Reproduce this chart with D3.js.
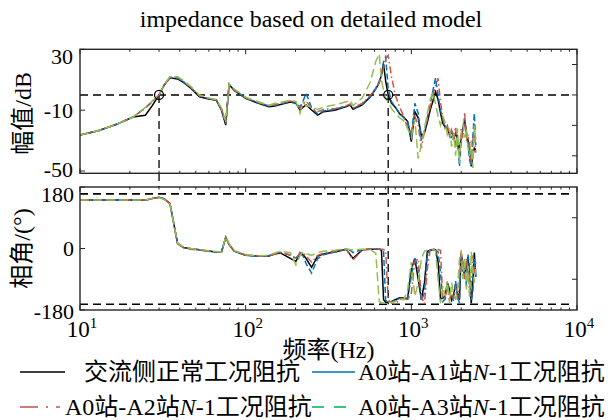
<!DOCTYPE html>
<html>
<head>
<meta charset="utf-8">
<script src="https://cdn.jsdelivr.net/npm/d3@7"></script>
<style>
  body { margin: 0; background: #fff; }
  text { font-family: "Liberation Serif", "Times New Roman", "Noto Sans CJK SC", serif; fill: #000; }
</style>
</head>
<body>
<div id="chart"></div>
<script>
// frequency grid (Hz) shared by all series
const freqs = [10, 12.9, 16.8, 20.9, 24.8, 27.3, 30, 32.2, 34.9, 38.8, 42.1, 46.8, 52.6, 58.8, 66.5, 71.4, 75.8, 79.4, 85.3, 100,
  117, 138, 150, 162, 186, 201, 213, 222, 232, 250, 272, 295, 345, 405, 427, 445, 505, 563, 610, 640,
  660, 680, 700, 725, 760, 800, 850, 900, 950, 1000, 1050, 1100, 1150, 1200, 1250, 1300, 1350, 1400, 1450, 1500,
  1550, 1600, 1650, 1700, 1750, 1800, 1850, 1900, 1950, 2000, 2050, 2100, 2150, 2200, 2250, 2300, 2350, 2400, 2450];

// magnitude (dB)
const magNormal = [-26.3, -23.5, -19.1, -14.5, -13.3, -7, 0, 6.5, 11.3, 10.5, 8.2, 4.3, -1.2, -2.5, -3.5, -9.9, -19.8, 6.9, 3, -2.3,
  -5.1, -7.7, -7.2, -6.3, -4.6, -5.5, -10, -8, -6.6, -9.9, -13.2, -11, -10, -7.7, -6.6, -9.5, -6.6, -1.5, 4, 8,
  13, 20.5, 9, 0, -5.5, -8, -12.5, -14.5, -17.5, -30.7, -11, -15, -27, -25, -18, -10, -4, 2, -3, -12,
  -18.7, -21, -22, -26, -24, -28, -25, -30, -36, -28, -22, -16.5, -25, -30, -38, -47, -40, -35, -36];
const magA1 = [-26.3, -23.5, -19.1, -14.5, -8.5, -4.2, 0, 6.5, 11.6, 11, 8.5, 4.6, -0.8, -2.2, -3.4, -9.5, -19, 6.5, 3.2, -2,
  -4.8, -7.3, -6.8, -6, -4.2, -5, -8, -4, 1, -8.5, -12.5, -10.5, -9.5, -7.3, -6.2, -9, -6, -1, 4.5, 9,
  14, 22, 25, 4, -4.5, -8, -12, -15, -18, -27, -5.5, -12, -30, -24, -15, -6, 3, 11, 0, -10,
  -16, -20, -23, -24, -29, -25, -34, -26, -47, -30, -23, -15, -27, -33, -43, -47, -28, -12, -33];
const magA2 = [-26.3, -23.5, -19.1, -14.5, -8.8, -4.5, 0, 6.5, 11.8, 11.8, 9, 5, -0.5, -2, -3.2, -9, -18, 6.5, 3.5, -1.8,
  -4.6, -7, -6.5, -5.5, -4, -5, -9, -6, -4, -9, -11, -9.5, -9, -7, -6, -8.5, -5.5, -0.5, 4, 8,
  12.5, 18, 24, 26, 12, 0, -8, -14, -22, -25, -14, -20, -35, -24, -16, -8, 0, 6, 11, -5,
  -15, -22, -20, -27, -23, -30, -21, -34, -40, -22, -28, -12, -30, -26, -33, -45, -30, -24, -38];
const magA3 = [-26.3, -23.5, -19.1, -14.5, -8.2, -4, 0, 6.7, 12, 12, 9.5, 5.5, 0, -1.8, -3, -8.5, -17.5, 7.5, 4, -1.5,
  -4.2, -6.8, -5.5, -4.8, -3.5, -4.2, -12, -5, -7, -8, -9.5, -8, -6.5, -4.5, -3.5, -7, -2, 8, 22, 27,
  10, 3, -2, -5, -9, -12, -15, -17, -22, -28, -16, -41.7, -33, -22, -12, -3, 2, -6, -14, -20,
  -14, -18, -26, -22, -34, -25, -40, -22, -45, -25, -19, -28, -22, -35, -40, -30, -48, -20, -30];

// phase (deg)
const phNormal = [142, 142, 142, 142, 141, 146, 150, 145, 132, 15, 3, -1, -4, -7, -10, -11, 33, 12, -8, -20,
  -22, -22, -16, -13, -29, -38, -12, -18, -30, -55, -22, -16, -10, -2, -18, -29, -4, -2, -2, -2,
  -5, -150, -157, -157, -155, -150, -144, -145, -146, -60, -30, -90, -150, -100, -8, -5, -4, -4, -40, -148,
  -145, -138, -100, -120, -151, -135, -105, -130, -150, -14, -50, -83, -50, -24, -90, -160, -100, -12, -83];
const phA1 = [142, 142, 142, 142, 142, 147, 150, 145, 132, 15, 3, -1, -4, -7, -10, -11, 31, 12, -8, -20,
  -22, -21, -15, -11, -20, -28, -15, -22, -45, -72, -30, -18, -10, -3, -5, -12, -3, -2, -2, -2,
  -3, -10, -152, -158, -156, -152, -146, -147, -148, -80, -25, -60, -152, -130, -15, -4, -3, -5, -10, -70,
  -155, -148, -110, -130, -140, -155, -95, -140, -160, -20, -70, -40, -110, -18, -60, -150, -130, -30, -90];
const phA2 = [142, 142, 142, 142, 142, 146, 150, 145, 131, 14, 2, -2, -5, -8, -10, -11, 32, 12, -7, -19,
  -21, -22, -16, -12, -18, -30, -12, -14, -22, -40, -20, -14, -8, -2, -20, -33, -5, -2, -1, -1,
  -2, -3, -6, -150, -160, -162, -150, -146, -150, -130, -40, -30, -140, -162, -60, -2, -1, -2, -3, -5,
  -150, -140, -120, -150, -125, -148, -110, -150, -100, -10, -40, -90, -30, -60, -140, -100, -20, -70, -40];
const phA3 = [142, 142, 142, 142, 142, 146, 149, 144, 130, 16, 4, 0, -3, -6, -9, -10, 34, 14, -6, -18,
  -21, -20, -13, -8, -12, -48, -20, -10, -15, -20, -12, -8, -5, -1, -3, -4, -2, -2, -14, -155,
  -158, -160, -158, -157, -158, -155, -147, -150, -120, -40, -140, -100, -30, -8, -5, -3, -2, -8, -90, -160,
  -110, -140, -95, -160, -100, -130, -150, -120, -35, -5, -90, -30, -120, -50, -140, -10, -60, -100, -60];

const seriesNames = ["交流侧正常工况阻抗", "A0站-A1站N-1工况阻抗", "A0站-A2站N-1工况阻抗", "A0站-A3站N-1工况阻抗"];
const crossFreqs = [30, 725];
const magTicksLeft = [30, -10, -50];
const magTicksRight = [20, 0, -20, -40];
const phTicksLeft = [180, 0, -180];
const phTicksRight = [90, -90];
const phLimits = [160, -163];

const W = 611, H = 420;
const X0 = 80, X1 = 577;
const FONT = 24, TICK_FONT = 22;

const svg = d3.select("#chart").append("svg").attr("width", W).attr("height", H);

const x = d3.scaleLog().domain([10, 1e4]).range([X0, X1]);
const yMag = d3.scaleLinear().domain([-51.5, 30]).range([173.3, 49.3]);
const yPh = d3.scaleLinear().domain([-180, 180]).range([310, 187]);

const series = [
  { mag: magNormal, ph: phNormal, color: "#000", legend: "#000", dash: null },
  { mag: magA1, ph: phA1, color: "#0072bd", legend: "#0072bd", dash: "6,3" },
  { mag: magA2, ph: phA2, color: "#cc5448", legend: "#c0504d", dash: "7,3,1.5,3" },
  { mag: magA3, ph: phA3, color: "#93bf52", legend: "#00b050", dash: "9,4" }
];

// title
svg.append("text").attr("x", 311).attr("y", 27).attr("text-anchor", "middle")
  .attr("font-size", FONT).text("impedance based on detailed model");

function panel(y, clipId) {
  const [yb, yt] = y.range();
  svg.append("clipPath").attr("id", clipId).append("rect")
    .attr("x", X0).attr("y", yt).attr("width", X1 - X0).attr("height", yb - yt);
  return { yb, yt };
}

const pTop = panel(yMag, "clipTop");
const pBot = panel(yPh, "clipBot");

// reference dashed lines
const dashRef = "8,5";
svg.append("line").attr("x1", X0).attr("x2", X1 - 3).attr("y1", yMag(0)).attr("y2", yMag(0))
  .attr("stroke", "#000").attr("stroke-width", 1.6).attr("stroke-dasharray", dashRef);
phLimits.forEach(v => {
  svg.append("line").attr("x1", X0).attr("x2", X1 - 3).attr("y1", yPh(v)).attr("y2", yPh(v))
    .attr("stroke", "#000").attr("stroke-width", 1.6).attr("stroke-dasharray", dashRef);
});
svg.append("line").attr("x1", x(crossFreqs[0])).attr("x2", x(crossFreqs[0]))
  .attr("y1", yMag(0)).attr("y2", pBot.yt)
  .attr("stroke", "#000").attr("stroke-width", 1.3).attr("stroke-dasharray", dashRef);
svg.append("line").attr("x1", x(crossFreqs[1])).attr("x2", x(crossFreqs[1]))
  .attr("y1", yMag(0)).attr("y2", yPh(phLimits[1]))
  .attr("stroke", "#000").attr("stroke-width", 1.3).attr("stroke-dasharray", dashRef);

// curves
const lineMag = d3.line().x((d, i) => x(freqs[i])).y(d => yMag(d));
const linePh = d3.line().x((d, i) => x(freqs[i])).y(d => yPh(d));
const gTop = svg.append("g").attr("clip-path", "url(#clipTop)");
const gBot = svg.append("g").attr("clip-path", "url(#clipBot)");
series.forEach(s => {
  gTop.append("path").attr("d", lineMag(s.mag)).attr("fill", "none")
    .attr("stroke", s.color).attr("stroke-width", 1.5).attr("stroke-dasharray", s.dash);
  gBot.append("path").attr("d", linePh(s.ph)).attr("fill", "none")
    .attr("stroke", s.color).attr("stroke-width", 1.5).attr("stroke-dasharray", s.dash);
});

// crossing markers
crossFreqs.forEach(f => {
  svg.append("circle").attr("cx", x(f)).attr("cy", yMag(0)).attr("r", 4.5)
    .attr("fill", "none").attr("stroke", "#000").attr("stroke-width", 1.3);
});

// axes frames and ticks
const axisColor = "#262626";
const majors = [10, 100, 1000, 10000];
const minors = [];
[10, 100, 1000].forEach(d => { for (let k = 2; k <= 9; k++) minors.push(d * k); });

function frame(p) {
  svg.append("rect").attr("x", X0).attr("y", p.yt).attr("width", X1 - X0).attr("height", p.yb - p.yt)
    .attr("fill", "none").attr("stroke", axisColor).attr("stroke-width", 1.4);
  const g = svg.append("g").attr("stroke", axisColor).attr("stroke-width", 1);
  majors.forEach(v => {
    g.append("line").attr("x1", x(v)).attr("x2", x(v)).attr("y1", p.yb).attr("y2", p.yb - 5);
    g.append("line").attr("x1", x(v)).attr("x2", x(v)).attr("y1", p.yt).attr("y2", p.yt + 5);
  });
  minors.forEach(v => {
    g.append("line").attr("x1", x(v)).attr("x2", x(v)).attr("y1", p.yb).attr("y2", p.yb - 2.5);
    g.append("line").attr("x1", x(v)).attr("x2", x(v)).attr("y1", p.yt).attr("y2", p.yt + 2.5);
  });
  return g;
}

const gT = frame(pTop);
magTicksLeft.forEach(v => gT.append("line").attr("x1", X0).attr("x2", X0 + 5).attr("y1", yMag(v)).attr("y2", yMag(v)));
magTicksRight.forEach(v => gT.append("line").attr("x1", X1).attr("x2", X1 - 5).attr("y1", yMag(v)).attr("y2", yMag(v)));
const gB = frame(pBot);
phTicksLeft.forEach(v => gB.append("line").attr("x1", X0).attr("x2", X0 + 5).attr("y1", yPh(v)).attr("y2", yPh(v)));
phTicksRight.forEach(v => gB.append("line").attr("x1", X1).attr("x2", X1 - 5).attr("y1", yPh(v)).attr("y2", yPh(v)));

// y tick labels
magTicksLeft.forEach(v => {
  const yy = v === 30 ? yMag(v) + 7 : v === -50 ? yMag(v) - 1.5 : yMag(v);
  svg.append("text").attr("x", 73).attr("y", yy).attr("dy", "0.34em").attr("text-anchor", "end")
    .attr("font-size", TICK_FONT).text(v);
});
phTicksLeft.forEach(v => {
  const yy = v === 180 ? yPh(v) + 7.5 : v === -180 ? yPh(v) + 1.5 : yPh(v);
  svg.append("text").attr("x", 74).attr("y", yy).attr("dy", "0.34em").attr("text-anchor", "end")
    .attr("font-size", TICK_FONT).text(v);
});

// x tick labels (powers of ten)
majors.forEach((v, i) => {
  const t = svg.append("text").attr("x", x(v) + 2).attr("y", 337).attr("text-anchor", "middle")
    .attr("font-size", TICK_FONT + 1);
  t.append("tspan").text("10");
  t.append("tspan").attr("dy", -9).attr("font-size", 15).text(i + 1);
});

// axis labels
svg.append("text").attr("x", (X0 + X1) / 2).attr("y", 358).attr("text-anchor", "middle")
  .attr("font-size", FONT).text("频率(Hz)");
svg.append("text").attr("transform", `translate(23,${(pTop.yt + pTop.yb) / 2 + 2}) rotate(-90)`)
  .attr("text-anchor", "middle").attr("dominant-baseline", "central")
  .attr("font-size", FONT).text("幅值/dB");
svg.append("text").attr("transform", `translate(22,${(pBot.yt + pBot.yb) / 2})rotate(-90)`)
  .attr("text-anchor", "middle").attr("dominant-baseline", "central")
  .attr("font-size", FONT).text("相角/(°)");

// legend
const legendPos = [
  { lx: 20, lw: 45, tx: 84, y: 372 },
  { lx: 312, lw: 43, tx: 358, y: 372 },
  { lx: 20, lw: 40, tx: 65, y: 407 },
  { lx: 312, lw: 43, tx: 358, y: 407 }
];
series.forEach((s, i) => {
  const p = legendPos[i];
  svg.append("line").attr("x1", p.lx).attr("x2", p.lx + p.lw).attr("y1", p.y).attr("y2", p.y)
    .attr("stroke", s.legend).attr("stroke-width", 1.6)
    .attr("stroke-dasharray", i === 2 ? "18,8,2,8" : i === 3 ? "12,10" : null);
  const t = svg.append("text").attr("x", p.tx).attr("y", p.y).attr("dominant-baseline", "central")
    .attr("font-size", FONT);
  const name = seriesNames[i];
  const k = name.indexOf("N");
  if (k < 0) {
    t.text(name);
  } else {
    t.append("tspan").text(name.slice(0, k));
    t.append("tspan").attr("font-style", "italic").text("N");
    t.append("tspan").text(name.slice(k + 1));
  }
});
</script>
</body>
</html>
